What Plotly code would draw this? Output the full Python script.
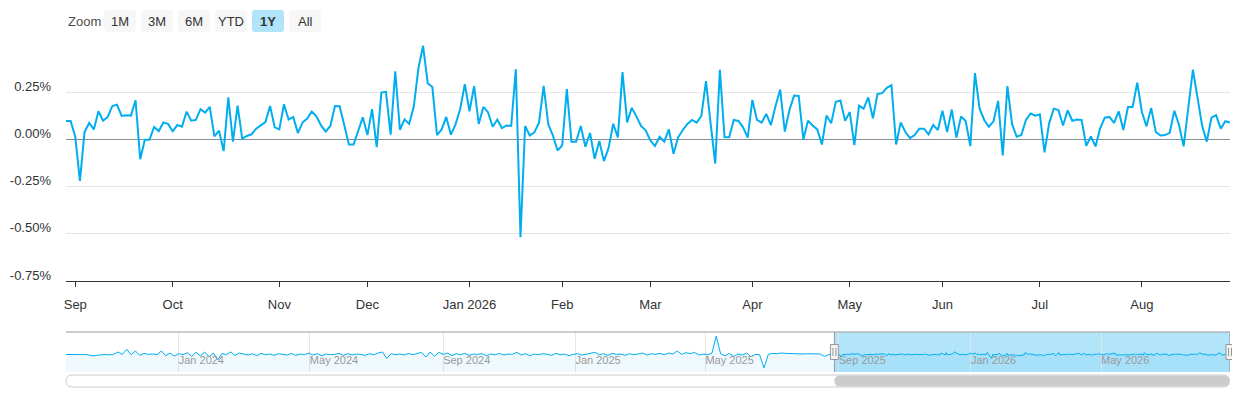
import pandas as pd
import plotly.graph_objects as go

# daily change in %, one value per trading day from 2025-08-28 to 2026-08-28
daily_change = [
    0.098, 0.098, 0.014, -0.220, 0.039, 0.087, 0.053, 0.149, 0.099, 0.119,
    0.177, 0.184, 0.124, 0.128, 0.126, 0.207, -0.105, -0.002, -0.002, 0.066,
    0.044, 0.090, 0.082, 0.043, 0.076, 0.067, 0.147, 0.099, 0.103, 0.160,
    0.142, 0.172, 0.016, 0.046, -0.062, 0.223, -0.012,
    0.179, 0.004, 0.018, 0.027, 0.057, 0.074, 0.092, 0.177, 0.064, 0.053,
    0.186, 0.105, 0.119, 0.034, 0.089, 0.110, 0.147, 0.122, 0.074, 0.041,
    0.071, 0.177, 0.176, 0.076, -0.027, -0.027, 0.050, 0.117, 0.023, 0.160,
    -0.041, 0.248, 0.252, 0.025, 0.360, 0.051, 0.106,
    0.082, 0.174, 0.378, 0.496, 0.298, 0.277, 0.023, 0.053, 0.119, 0.025,
    0.080, 0.161, 0.293, 0.149, 0.282, 0.082, 0.172, 0.144, 0.067, 0.105,
    0.060, 0.074, 0.071, 0.372, -0.518, 0.071, 0.021, 0.037, 0.089, 0.284,
    0.080, 0.020, -0.059, -0.032, 0.266, -0.012,
    -0.012, 0.071, -0.039, 0.034, -0.103, -0.009, -0.115, -0.046, 0.083, 0.011,
    0.356, 0.090, 0.167, 0.122, 0.071, 0.048, -0.005, -0.035, 0.014, -0.012,
    0.053, -0.076, 0.011, 0.050, 0.082, 0.103, 0.089, 0.124, 0.309, 0.085,
    -0.128, 0.369, 0.011, 0.011, 0.103, 0.098, 0.064,
    0.009, 0.209, 0.103, 0.089, 0.135, 0.076, 0.177, 0.264, 0.041, 0.156,
    0.232, 0.230, 0.000, 0.099, 0.074, 0.053, -0.027, 0.126, 0.085, 0.199,
    0.206, 0.098, 0.145, -0.030, 0.179, 0.163, 0.222, 0.112, 0.241, 0.245,
    0.273, 0.287, -0.027, 0.090, 0.039, 0.007,
    0.023, 0.057, 0.057, 0.027, 0.076, 0.050, 0.152, 0.039, 0.158, 0.009,
    0.121, 0.098, -0.035, 0.351, 0.163, 0.103, 0.067, 0.096, 0.204, -0.085,
    0.282, 0.082, 0.014, 0.023, 0.103, 0.137, 0.126, 0.133, -0.069, 0.085,
    0.163, 0.156, 0.074, 0.154, 0.099, 0.105, 0.103,
    -0.034, 0.016, -0.037, 0.059, 0.115, 0.119, 0.087, 0.149, 0.050, 0.172,
    0.172, 0.301, 0.145, 0.069, 0.167, 0.039, 0.021, 0.023, 0.035, 0.152,
    0.076, -0.037, 0.165, 0.369, 0.220, 0.071, -0.012, 0.115, 0.128, 0.057,
    0.096, 0.089,
]

market_holidays = [
    "2025-09-01", "2025-11-27", "2025-12-25", "2026-01-01", "2026-01-19",
    "2026-02-16", "2026-04-03", "2026-05-25", "2026-06-19", "2026-07-03",
]

# older history shown only in the navigator, read every 4 days from 2023-09-19
nav_history = [
    0.08, 0.05, 0.10, 0.03, 0.07, 0.06, -0.12, -0.05, 0.04, 0.08,
    0.02, 0.12, 0.45, 0.10, 0.85, 0.05, 0.60, -0.05, 0.25, 0.10,
    0.15, 0.05, 0.60, -0.10, 0.30, -0.15, 0.20, 0.05, 0.35, -0.20,
    0.40, -0.10, 0.45, -0.25, 0.30, -0.70, 0.25, 0.05, 0.45, -0.05,
    0.30, 0.10, 0.00, 0.20, -0.10, 0.25, 0.05, 0.15, -0.05, 0.20,
    0.10, 0.00, 0.25, -0.05, 0.15, 0.05, 0.30, 0.00, 0.20, -0.10,
    0.15, 0.05, 0.10, 0.25, -0.05, 0.20, 0.00, 0.15, 0.10, -0.05,
    0.20, 0.05, 0.30, 0.45, -0.50, 0.20, 0.05, 0.15, 0.00, 0.25,
    0.05, 0.20, 0.40, -0.30, 0.45, -0.20, 0.40, 0.10, 0.30, -0.10,
    0.20, 0.05, 0.25, -0.05, 0.15, 0.10, 0.20, -0.10, 0.15, 0.05,
    0.25, 0.00, 0.15, 0.10, 0.40, 0.00, 0.20, -0.10, 0.15, 0.05,
    0.20, 0.10, -0.05, 0.25, 0.05, 0.15, -0.10, 0.10, 0.20, 0.00,
    0.15, 0.25, 0.40, 0.05, 0.20, -0.05, 0.25, 0.10, 0.15, -0.05,
    0.20, 0.05, 0.15, 0.30, 0.00, 0.20, 0.10, 0.25, 0.05, 0.30,
    0.15, 0.60, 0.10, 0.35, 0.20, 0.40, 0.00, 0.15, 0.05, 0.30,
    2.80, 0.20, -0.10, 0.25, -0.20, 0.15, 0.00, 0.30, -0.25, 0.10,
    0.05, -1.90, 0.10, 0.25, 0.20, 0.30, 0.25, 0.20, 0.15, 0.20,
    0.15, 0.20, 0.15, 0.10, 0.15, -0.20, 0.10,
]

zoom_buttons = ["1M", "3M", "6M", "YTD", "1Y", "All"]
active_button = "1Y"

LINE = "#00aeef"
FONT = "Liberation Sans, Arial, sans-serif"
NAV_MIN, NAV_MAX = -2.5, 3.4

dates = pd.bdate_range("2025-08-28", periods=len(daily_change), freq="C",
                       holidays=market_holidays)
hist_dates = pd.date_range("2023-09-19", periods=len(nav_history), freq="4D")
nav_x = list(hist_dates) + list(dates)
nav_y = nav_history + daily_change

# month ticks on the first trading day of each month
s = pd.Series(dates)
firsts = s.groupby(s.dt.to_period("M")).first().iloc[1:]
tickvals = list(firsts)
ticktext = [d.strftime("%b %Y") if d.month == 1 else d.strftime("%b") for d in firsts]

nav_ticks = pd.date_range("2024-01-01", "2026-05-01", freq="4MS")
nav_text = [d.strftime("%b %Y") for d in nav_ticks]

# page pixel -> paper coords (page body has an 8px margin)
PAD = 8
W, H = 1240 - PAD, 400 - PAD
PLOT_L, PLOT_R, PLOT_T, PLOT_B = 66, 1230, 45, 372
NAV_TOP = 332
L, R = PLOT_L - PAD, 1240 - PLOT_R
T, B = PLOT_T - PAD, 400 - PLOT_B
PW, PH = PLOT_R - PLOT_L, PLOT_B - PLOT_T


def px(x):
    return (x - PLOT_L) / PW


def py(y):
    return (PLOT_B - y) / PH


def rounded(x0, x1, y0, y1, r):
    return (f"M {px(x0 + r)},{py(y0)} L {px(x1 - r)},{py(y0)} "
            f"Q {px(x1)},{py(y0)} {px(x1)},{py(y0 + r)} L {px(x1)},{py(y1 - r)} "
            f"Q {px(x1)},{py(y1)} {px(x1 - r)},{py(y1)} L {px(x0 + r)},{py(y1)} "
            f"Q {px(x0)},{py(y1)} {px(x0)},{py(y1 - r)} L {px(x0)},{py(y0 + r)} "
            f"Q {px(x0)},{py(y0)} {px(x0 + r)},{py(y0)} Z")


sel_start, sel_end = dates[0], dates[-1]
span = nav_x[-1] - nav_x[0]
sel_x0 = PLOT_L + (sel_start - nav_x[0]) / span * PW
sel_x1 = PLOT_L + (sel_end - nav_x[0]) / span * PW
nav_mid = (NAV_TOP + PLOT_B) / 2

fig = go.Figure()
fig.add_trace(go.Scatter(x=dates, y=daily_change, mode="lines",
                         line=dict(color=LINE, width=2), hoverinfo="skip"))
fig.add_trace(go.Scatter(x=[nav_x[0], nav_x[-1]], y=[NAV_MIN, NAV_MIN], mode="lines",
                         line=dict(width=0), xaxis="x2", yaxis="y2", hoverinfo="skip"))
fig.add_trace(go.Scatter(x=nav_x, y=nav_y, mode="lines", line=dict(color=LINE, width=1),
                         fill="tonexty", fillcolor="rgba(0,174,239,0.06)",
                         xaxis="x2", yaxis="y2", hoverinfo="skip"))

shapes = [
    dict(type="rect", xref="x2", yref="paper", x0=sel_start, x1=sel_end,
         y0=0, y1=py(NAV_TOP), fillcolor="rgba(0,170,240,0.3)", line=dict(width=0),
         layer="below"),
    dict(type="line", xref="paper", yref="paper", x0=0, x1=1,
         y0=py(NAV_TOP), y1=py(NAV_TOP), line=dict(color="#999999", width=1)),
]
for d in (sel_start, sel_end):
    shapes.append(dict(type="line", xref="x2", yref="paper", x0=d, x1=d,
                       y0=0, y1=py(NAV_TOP), line=dict(color="#999999", width=1)))

# scrollbar track and thumb
shapes.append(dict(type="path", xref="paper", yref="paper", path=rounded(66, 1229, 375, 387, 6),
                   fillcolor="white", line=dict(color="#cccccc", width=1)))
shapes.append(dict(type="path", xref="paper", yref="paper",
                   path=rounded(sel_x0, sel_x1, 375.5, 386.5, 5.5),
                   fillcolor="#cccccc", line=dict(width=0)))

# navigator handles
for cx in (sel_x0, sel_x1):
    shapes.append(dict(type="rect", xref="paper", yref="paper",
                       x0=px(cx - 4), x1=px(cx + 4),
                       y0=py(nav_mid + 7.5), y1=py(nav_mid - 7.5),
                       fillcolor="#f2f2f2", line=dict(color="#999999", width=1)))
    for off in (-1.5, 1.5):
        shapes.append(dict(type="line", xref="paper", yref="paper",
                           x0=px(cx + off), x1=px(cx + off),
                           y0=py(nav_mid + 4), y1=py(nav_mid - 4),
                           line=dict(color="#999999", width=1)))

annotations = [
    dict(text="Zoom", xref="paper", yref="paper", x=px(66), y=py(21),
         xanchor="left", yanchor="middle", showarrow=False,
         font=dict(size=13, color="#4d4d4d")),
]

# range selector buttons
for i, lab in enumerate(zoom_buttons):
    bx0 = 104 + 37 * i
    on = lab == active_button
    shapes.append(dict(type="path", xref="paper", yref="paper",
                       path=rounded(bx0, bx0 + 32, 10, 32, 3),
                       fillcolor="#b0e4f8" if on else "#f7f7f7", line=dict(width=0)))
    annotations.append(dict(text=f"<b>{lab}</b>" if on else lab, xref="paper", yref="paper",
                            x=px(bx0 + 16), y=py(21), xanchor="center", yanchor="middle",
                            showarrow=False, font=dict(size=13, color="#333333")))

fig.update_layout(
    width=W, height=H,
    margin=dict(l=L, r=R, t=T, b=B),
    paper_bgcolor="white", plot_bgcolor="white",
    showlegend=False,
    font=dict(family=FONT, size=13, color="#333333"),
    xaxis=dict(
        domain=[0, 1], anchor="y", type="date",
        range=["2025-08-28", "2026-08-28"],
        rangebreaks=[dict(bounds=["sat", "mon"]), dict(values=market_holidays)],
        tickmode="array", tickvals=tickvals, ticktext=ticktext,
        ticks="outside", ticklen=5, tickcolor="#333333", ticklabelstandoff=6,
        showline=True, linecolor="#333333", linewidth=1,
        showgrid=False, zeroline=False, automargin=False,
        tickfont=dict(size=13, color="#333333"),
    ),
    yaxis=dict(
        domain=[py(281), 1], anchor="x",
        range=[-0.75, 0.5],
        tickmode="array", tickvals=[-0.75, -0.5, -0.25, 0, 0.25, 0.5],
        ticktext=["-0.75%", "-0.50%", "-0.25%", "0.00%", "0.25%", ""],
        gridcolor="#e6e6e6", gridwidth=1,
        zeroline=True, zerolinecolor="#868e96", zerolinewidth=1,
        ticks="", ticklabelstandoff=14, ticklabelshift=-6, automargin=False,
        tickfont=dict(size=13, color="#333333"),
    ),
    xaxis2=dict(
        domain=[0, 1], anchor="y2", type="date",
        range=[nav_x[0], nav_x[-1]],
        tickmode="array", tickvals=list(nav_ticks), ticktext=nav_text,
        ticklabelposition="inside right", ticks="",
        showgrid=True, gridcolor="#e6e6e6", zeroline=False, showline=False,
        automargin=False, tickfont=dict(size=11, color="#999999"),
    ),
    yaxis2=dict(domain=[0, py(NAV_TOP)], anchor="x2", range=[NAV_MIN, NAV_MAX],
                visible=False, showgrid=False, zeroline=False),
    shapes=shapes,
    annotations=annotations,
)

fig.write_html("out.html")
